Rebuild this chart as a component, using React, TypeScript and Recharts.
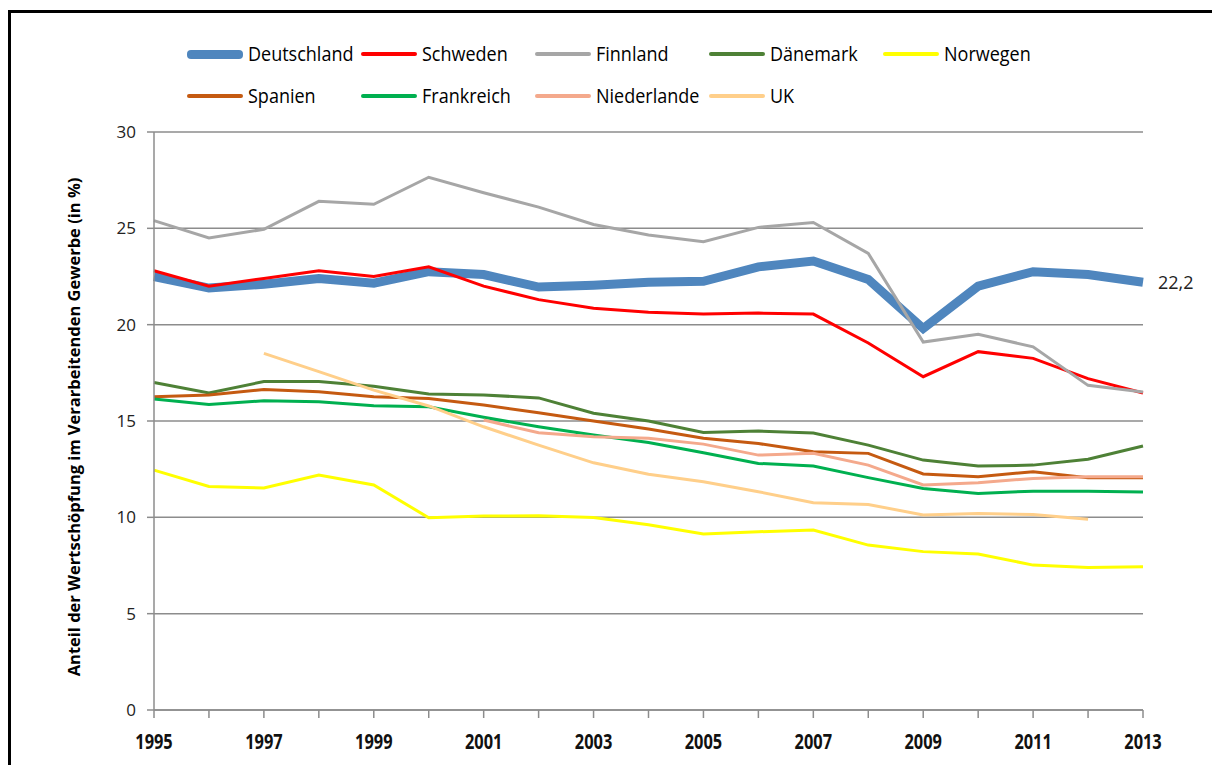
import { LineChart, Line, XAxis, YAxis, CartesianGrid, Label } from 'recharts'

const years = [1995, 1996, 1997, 1998, 1999, 2000, 2001, 2002, 2003, 2004, 2005, 2006, 2007, 2008, 2009, 2010, 2011, 2012, 2013]
const yTicks = [0, 5, 10, 15, 20, 25, 30]

const deutschland = [22.5, 21.9, 22.1, 22.4, 22.15, 22.75, 22.6, 21.95, 22.05, 22.2, 22.25, 23.0, 23.3, 22.35, 19.8, 22.0, 22.75, 22.6, 22.2]
const schweden = [22.8, 22.0, 22.4, 22.8, 22.5, 23.0, 22.0, 21.3, 20.85, 20.65, 20.55, 20.6, 20.55, 19.05, 17.3, 18.6, 18.25, 17.2, 16.45]
const finnland = [25.4, 24.5, 24.95, 26.4, 26.25, 27.65, 26.85, 26.1, 25.2, 24.65, 24.3, 25.05, 25.3, 23.7, 19.1, 19.5, 18.85, 16.85, 16.5]
const daenemark = [17.0, 16.45, 17.05, 17.05, 16.8, 16.4, 16.35, 16.2, 15.4, 15.0, 14.4, 14.48, 14.38, 13.75, 12.97, 12.66, 12.71, 13.02, 13.7]
const norwegen = [12.45, 11.6, 11.52, 12.2, 11.68, 9.98, 10.07, 10.08, 9.99, 9.62, 9.13, 9.25, 9.34, 8.56, 8.22, 8.1, 7.52, 7.4, 7.44]
const spanien = [16.26, 16.35, 16.64, 16.52, 16.26, 16.17, 15.83, 15.43, 15.0, 14.58, 14.1, 13.83, 13.4, 13.32, 12.25, 12.11, 12.37, 12.06, 12.06]
const frankreich = [16.14, 15.86, 16.05, 16.0, 15.79, 15.74, 15.19, 14.7, 14.27, 13.88, 13.35, 12.8, 12.66, 12.06, 11.5, 11.24, 11.36, 11.36, 11.31]
const niederlande = [null, null, null, null, null, null, 15.05, 14.39, 14.18, 14.1, 13.8, 13.23, 13.32, 12.71, 11.68, 11.8, 12.02, 12.11, 12.11]
const uk = [null, null, 18.51, 17.56, 16.6, 15.78, 14.7, 13.75, 12.83, 12.24, 11.85, 11.33, 10.76, 10.67, 10.12, 10.2, 10.15, 9.9, null]

const series = [
  { key: 'Deutschland', values: deutschland, color: '#4F86BE', width: 9 },
  { key: 'Schweden', values: schweden, color: '#FF0000', width: 3 },
  { key: 'Finnland', values: finnland, color: '#A6A6A6', width: 3 },
  { key: 'Dänemark', values: daenemark, color: '#4E8136', width: 3 },
  { key: 'Norwegen', values: norwegen, color: '#FFFF00', width: 3 },
  { key: 'Spanien', values: spanien, color: '#C55A11', width: 3 },
  { key: 'Frankreich', values: frankreich, color: '#00B050', width: 3 },
  { key: 'Niederlande', values: niederlande, color: '#F4A98C', width: 3 },
  { key: 'UK', values: uk, color: '#FFCF8A', width: 3 },
]

const data = years.map((year, i) => {
  const row: Record<string, number | null> = { year }
  series.forEach((s) => { row[s.key] = s.values[i] })
  return row
})

const legendRows = [series.slice(0, 5), series.slice(5)]

const lastIndex = years.length - 1

function EndLabel(props: any) {
  const { x, y, index, value } = props
  if (index !== lastIndex || value == null) return null
  return (
    <text x={x + 15} y={y} dy={7} fontSize={18} fill="#222" fontFamily="'Open Sans', sans-serif">
      {String(value).replace('.', ',')}
    </text>
  )
}

function XTick(props: any) {
  const { x, y, payload } = props
  const v = payload.value as number
  if ((v - 1995) % 2 !== 0) return null
  return (
    <g transform={`translate(${x},${y})`}>
      <text transform="scale(0.78,1)" textAnchor="middle" dy={19} fontSize={21} fontWeight={700} fill="#111" fontFamily="'Open Sans', sans-serif">
        {v}
      </text>
    </g>
  )
}

function YTitle() {
  return (
    <text
      transform="translate(80,427) rotate(-90)"
      textAnchor="middle"
      fontSize={16.5}
      fontWeight={700}
      fill="#000"
      fontFamily="'Open Sans', sans-serif"
    >
      Anteil der Wertschöpfung im Verarbeitenden Gewerbe (in %)
    </text>
  )
}

export default function App() {
  return (
    <div style={{ position: 'absolute', left: 0, top: 0, width: 1212, height: 765, overflow: 'hidden', background: '#fff' }}>
      <div style={{ position: 'absolute', left: 8, top: 10, width: 1300, height: 900, border: '3px solid #000' }} />
      <div style={{ position: 'absolute', left: 0, top: 0 }}>
        <LineChart width={1212} height={765} data={data} margin={{ top: 132, right: 69, bottom: 25, left: 94 }}>
          <CartesianGrid vertical={false} stroke="#8C8C8C" strokeWidth={1.5} />
          <XAxis
            dataKey="year"
            type="number"
            domain={[1995, 2013]}
            ticks={years}
            interval={0}
            height={30}
            tickSize={8}
            tickMargin={12}
            stroke="#8C8C8C"
            strokeWidth={1.5}
            tick={XTick}
          />
          <YAxis
            domain={[0, 30]}
            ticks={yTicks}
            width={60}
            tickSize={7}
            tickMargin={11}
            stroke="#8C8C8C"
            strokeWidth={1.5}
            tick={{ fill: '#222', fontSize: 17, fontFamily: "'Open Sans', sans-serif" }}
          >
            <Label content={YTitle} />
          </YAxis>
          {series.map((s) => (
            <Line
              key={s.key}
              dataKey={s.key}
              stroke={s.color}
              strokeWidth={s.width}
              dot={false}
              activeDot={false}
              type="linear"
              isAnimationActive={false}
              label={s.key === 'Deutschland' ? EndLabel : undefined}
            />
          ))}
        </LineChart>
      </div>
      {legendRows.map((row, r) => (
        <div key={r} style={{ position: 'absolute', left: 187, top: r === 0 ? 42 : 84, display: 'flex' }}>
          {row.map((s) => (
            <div key={s.key} style={{ width: 174, display: 'flex', alignItems: 'center' }}>
              <div style={{ width: 56, height: s.key === 'Deutschland' ? 9 : 4, borderRadius: 4, background: s.color, marginRight: 5, flexShrink: 0 }} />
              <span style={{ display: 'inline-block', transform: 'scale(0.9,1)', transformOrigin: 'left center', whiteSpace: 'nowrap', fontFamily: "'Open Sans', sans-serif", fontWeight: 500, fontSize: 20, color: '#000', lineHeight: '24px' }}>{s.key}</span>
            </div>
          ))}
        </div>
      ))}
    </div>
  )
}
